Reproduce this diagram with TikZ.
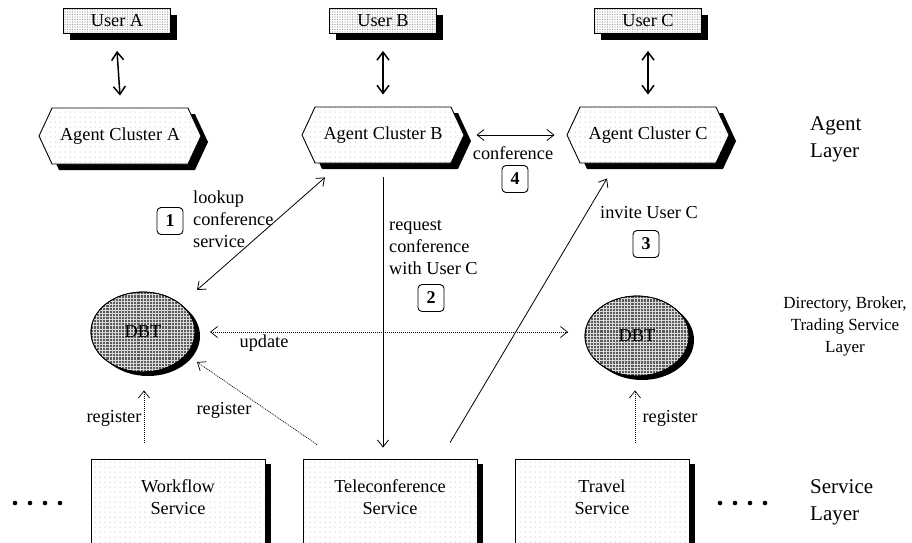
\documentclass[tikz,border=0pt]{standalone}
\usepackage{fontspec}
\setmainfont{Liberation Serif}
\usetikzlibrary{arrows.meta,patterns.meta,shadows,shapes.symbols,shapes.geometric}
\begin{document}
\begin{tikzpicture}[x=1pt,y=-1pt,
  nodefont/.style={font=\fontsize{18.3}{22}\selectfont},
  lbl/.style={nodefont, inner sep=0pt},
  userbox/.style={nodefont, draw, line width=0.8pt, minimum width=107pt, minimum height=25pt, inner sep=0pt,
    drop shadow={shadow xshift=6pt, shadow yshift=-6pt, fill=black, opacity=1, draw=none},
    preaction={fill=white}, pattern={Dots[distance=2.5pt,radius=0.55pt]}, pattern color=gray!85},
  agent/.style={nodefont, draw, line width=0.9pt, shape=signal, signal to=east and west, signal pointer angle=130,
    minimum width=162pt, minimum height=56pt, inner sep=0pt,
    drop shadow={shadow xshift=7pt, shadow yshift=-6pt, fill=black, opacity=1, draw=none},
    preaction={fill=white}, pattern={Dots[distance=5pt,radius=0.5pt]}, pattern color=gray!80},
  dbt/.style={draw, line width=0.8pt, ellipse, minimum width=104pt, minimum height=80pt, inner sep=0pt,
    drop shadow={shadow xshift=5pt, shadow yshift=-4pt, fill=black, opacity=1, draw=none},
    fill=black!65},
  gridline/.style={draw=gray!30, line width=0.7pt},
  svcbox/.style={draw, line width=0.8pt, minimum width=174pt, minimum height=110pt, inner sep=0pt,
    drop shadow={shadow xshift=6pt, shadow yshift=-5pt, fill=black, opacity=1, draw=none},
    preaction={fill=white}, pattern={Dots[distance=5pt,radius=0.5pt]}, pattern color=gray!80},
  svctext/.style={nodefont, align=center, inner sep=0pt},
  numbox/.style={draw, line width=0.9pt, rounded corners=4pt, minimum width=26pt, minimum height=27pt, inner sep=0pt,
    font=\fontsize{18}{21}\selectfont\bfseries},
  layer/.style={font=\fontsize{21}{27}\selectfont, align=left, inner sep=0pt},
  layerc/.style={font=\fontsize{17}{22}\selectfont, align=center, inner sep=0pt},
  biga/.style={line width=1.5pt, {Straight Barb[length=8pt,width=12pt]}-{Straight Barb[length=8pt,width=12pt]}},
  thina/.style={line width=0.8pt, {Straight Barb[length=7pt,width=11pt]}-{Straight Barb[length=7pt,width=11pt]}},
  thinr/.style={line width=0.8pt, -{Straight Barb[length=7pt,width=11pt]}},
  dotd/.style={line width=0.7pt, dash pattern=on 1pt off 1pt, {Straight Barb[length=7pt,width=11pt]}-{Straight Barb[length=7pt,width=11pt]}},
  dotr/.style={line width=0.7pt, dash pattern=on 1pt off 1pt, -{Straight Barb[length=7pt,width=11pt]}},
]
\path[use as bounding box, clip] (0,0) rectangle (912,542);
\fill[white] (0,0) rectangle (912,542);

% users
\node[userbox] (uA) at (117,21) {User A};
\node[userbox] (uB) at (383,21) {User B};
\node[userbox] (uC) at (648,21) {User C};

% agents
\node[agent] (agA) at (120,136) {Agent Cluster A};
\node[agent] (agB) at (383,135) {Agent Cluster B};
\node[agent] (agC) at (648,135) {Agent Cluster C};

% DBTs
\node[dbt] (dbtL) at (143,332) {};
\node[dbt] (dbtR) at (637,336) {};
\foreach \n in {dbtL,dbtR}{
  \begin{scope}
    \clip (\n.center) ellipse (51.6 and 39.6);
    \foreach \k in {-17,...,17}{
      \draw[gridline] ([shift={(3.1*\k,-45)}]\n.center) -- ([shift={(3.1*\k,45)}]\n.center);
    }
    \foreach \k in {-13,...,13}{
      \draw[gridline] ([shift={(-55,3.1*\k)}]\n.center) -- ([shift={(55,3.1*\k)}]\n.center);
    }
  \end{scope}
  \draw[line width=0.8pt] (\n.center) ellipse (52 and 40);
}
\node[lbl] (dbtLt) at (dbtL.center) {DBT};
\node[lbl] (dbtRt) at (dbtR.center) {DBT};

% services
\node[svcbox] (wf) at (178,514) {};
\node[svcbox] (tele) at (390,514) {};
\node[svcbox] (trav) at (602,514) {};
\node[svctext] (wft) at ([shift={(0,39)}]wf.north) {Workflow\\Service};
\node[svctext] (telet) at ([shift={(0,39)}]tele.north) {Teleconference\\Service};
\node[svctext] (travt) at ([shift={(0,39)}]trav.north) {Travel\\Service};

% user-agent arrows
\draw[biga] ([shift={(0,17)}]uA.south) -- ([shift={(0,-12)}]agA.north);
\draw[biga] ([shift={(0,17)}]uB.south) -- ([shift={(0,-12)}]agB.north);
\draw[biga] ([shift={(0,17)}]uC.south) -- ([shift={(0,-12)}]agC.north);

% conference
\draw[thina] ([shift={(12,0)}]agB.east) -- ([shift={(-12,0)}]agC.west);
\node[lbl] (conf) at (513,153) {conference};
\node[numbox] (n4) at (515,179) {4};

% lookup
\draw[thina] ([shift={(54,-42)}]dbtL.center) -- ([shift={(-58,14)}]agB.south);
\node[lbl, anchor=west, align=left] (lk) at (193,219) {lookup\\conference\\service};
\node[numbox] (n1) at (170,221) {1};

% request
\draw[thinr] ([shift={(0,14)}]agB.south) -- ([shift={(-7,-11)}]tele.north);
\node[lbl, anchor=west, align=left] (rq) at (389,247) {request\\conference\\with User C};
\node[numbox] (n2) at (431,298) {2};

% invite
\draw[thinr] ([shift={(60,-16)}]tele.north) -- ([shift={(-41,15)}]agC.south);
\node[lbl] (inv) at (649,213) {invite User C};
\node[numbox] (n3) at (646,244) {3};

% update
\draw[dotd] ([shift={(67,0)}]dbtL.center) -- ([shift={(-69,-4)}]dbtR.center);
\node[lbl] (upd) at (264,343) {update};

% register
\draw[dotr] ([shift={(-34,-16)}]wf.north) -- ([shift={(1,18)}]dbtL.south);
\draw[dotr] ([shift={(-73,-14)}]tele.north) -- ([shift={(54,30)}]dbtL.center);
\draw[dotr] ([shift={(33,-16)}]trav.north) -- ([shift={(-2,14)}]dbtR.south);
\node[lbl] (rg1) at (114,418) {register};
\node[lbl] (rg2) at (224,410) {register};
\node[lbl] (rg3) at (670,418) {register};

% dots
\foreach \x in {15,30,45,60} \fill (\x,503) circle (2.3);
\foreach \x in {720,735,750,765} \fill (\x,503) circle (2.3);

% layer labels
\node[layer, anchor=west] (la) at (810,139) {Agent\\Layer};
\node[layerc] (ld) at (845,326) {Directory, Broker,\\Trading Service\\Layer};
\node[layer, anchor=west] (ls) at (810,502) {Service\\Layer};
\end{tikzpicture}
\end{document}
